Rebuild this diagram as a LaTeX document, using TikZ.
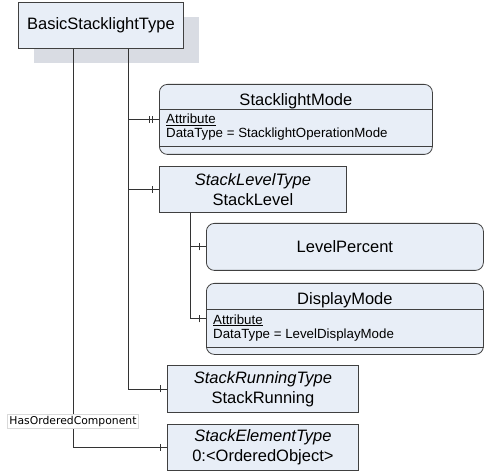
\documentclass[tikz,border=0pt]{standalone}
\usepackage{fontspec}
\setmainfont{Liberation Sans}
\newfontfamily\labelfont{DejaVu Sans}
\usepackage{xcolor}
\usetikzlibrary{positioning,shadows,decorations.markings,arrows.meta}
\definecolor{boxfill}{HTML}{E8EEF7}
\definecolor{boxline}{HTML}{404040}
\definecolor{shadowgray}{HTML}{D9DCE3}
\definecolor{connline}{HTML}{333333}

\begin{document}
\begin{tikzpicture}[x=1pt, y=-1pt,
    typebox/.style={draw=boxline, fill=boxfill, line width=0.8pt, anchor=north west, inner sep=0pt, align=center, font=\fontsize{16.5}{20}\selectfont},
    varbox/.style={typebox, rounded corners=8pt},
    boxtitle/.style={anchor=base, inner sep=0pt, font=\fontsize{16.5}{20}\selectfont},
    attrtext/.style={anchor=base west, inner sep=0pt, font=\fontsize{13.3}{16}\selectfont},
    conn/.style={draw=connline, line width=0.8pt},
    onetick/.style={postaction={decorate}, decoration={markings,
        mark=at position -7pt with {\draw[connline, line width=0.8pt] (0,-3.5pt) -- (0,3.5pt);}}},
    twoticks/.style={postaction={decorate}, decoration={markings,
        mark=at position -10pt with {\draw[connline, line width=0.8pt] (0,-3.5pt) -- (0,3.5pt);},
        mark=at position -7pt with {\draw[connline, line width=0.8pt] (0,-3.5pt) -- (0,3.5pt);}}},
    reflabel/.style={fill=white, draw=gray!30, line width=0.4pt, inner sep=2pt, font=\labelfont\fontsize{10.8}{12}\selectfont}]
    \useasboundingbox (0,0) rectangle (485,473);

    % type nodes
    \node[typebox, minimum width=165pt, minimum height=46pt,
        general shadow={fill=shadowgray, draw=none, shadow xshift=16pt, shadow yshift=-15pt}]
        (basic) at (18,2) {BasicStacklightType};
    \node[typebox, minimum width=187pt, minimum height=46pt] (level) at (159,166) {\textit{StackLevelType}\\StackLevel};
    \node[typebox, minimum width=191pt, minimum height=47pt] (running) at (167,365) {\textit{StackRunningType}\\StackRunning};
    \node[typebox, minimum width=191pt, minimum height=46pt] (element) at (167,424) {\textit{StackElementType}\\0:<OrderedObject>};

    % variable nodes
    \node[varbox, minimum width=273pt, minimum height=70pt] (mode) at (159,84) {};
    \node[boxtitle] (modeName) at ([yshift=-22pt]mode.north) {StacklightMode};
    \draw[boxline, line width=0.8pt] ([yshift=-25pt]mode.north west) -- ([yshift=-25pt]mode.north east);
    \draw[boxline, line width=0.8pt] ([yshift=8pt]mode.south west) -- ([yshift=8pt]mode.south east);
    \node[attrtext] (modeAttr) at ([xshift=7pt, yshift=-40pt]mode.north west) {\underline{Attribute}};
    \node[attrtext] (modeType) at ([xshift=7pt, yshift=-54pt]mode.north west) {DataType = StacklightOperationMode};

    \node[varbox, minimum width=277pt, minimum height=47pt] (percent) at (206,223) {LevelPercent};

    \node[varbox, minimum width=277pt, minimum height=71pt] (display) at (206,283) {};
    \node[boxtitle] (displayName) at ([yshift=-21.5pt]display.north) {DisplayMode};
    \draw[boxline, line width=0.8pt] ([yshift=-26pt]display.north west) -- ([yshift=-26pt]display.north east);
    \draw[boxline, line width=0.8pt] ([yshift=7pt]display.south west) -- ([yshift=7pt]display.south east);
    \node[attrtext] (displayAttr) at ([xshift=7pt, yshift=-41pt]display.north west) {\underline{Attribute}};
    \node[attrtext] (displayType) at ([xshift=7pt, yshift=-55pt]display.north west) {DataType = LevelDisplayMode};

    % references
    \draw[conn, twoticks] ([xshift=110pt]basic.south west) |- (mode.west);
    \draw[conn, onetick] ([xshift=110pt]basic.south west) |- (level.west);
    \draw[conn, onetick] ([xshift=110pt]basic.south west) |- (running.west);
    \draw[conn, onetick] ([xshift=31pt]level.south west) |- (percent.west);
    \draw[conn, onetick] ([xshift=31pt]level.south west) |- (display.west);
    \draw[conn, onetick] ([xshift=55pt]basic.south west) |- node[reflabel, pos=0.467] (ordered) {HasOrderedComponent} (element.west);
\end{tikzpicture}
\end{document}
